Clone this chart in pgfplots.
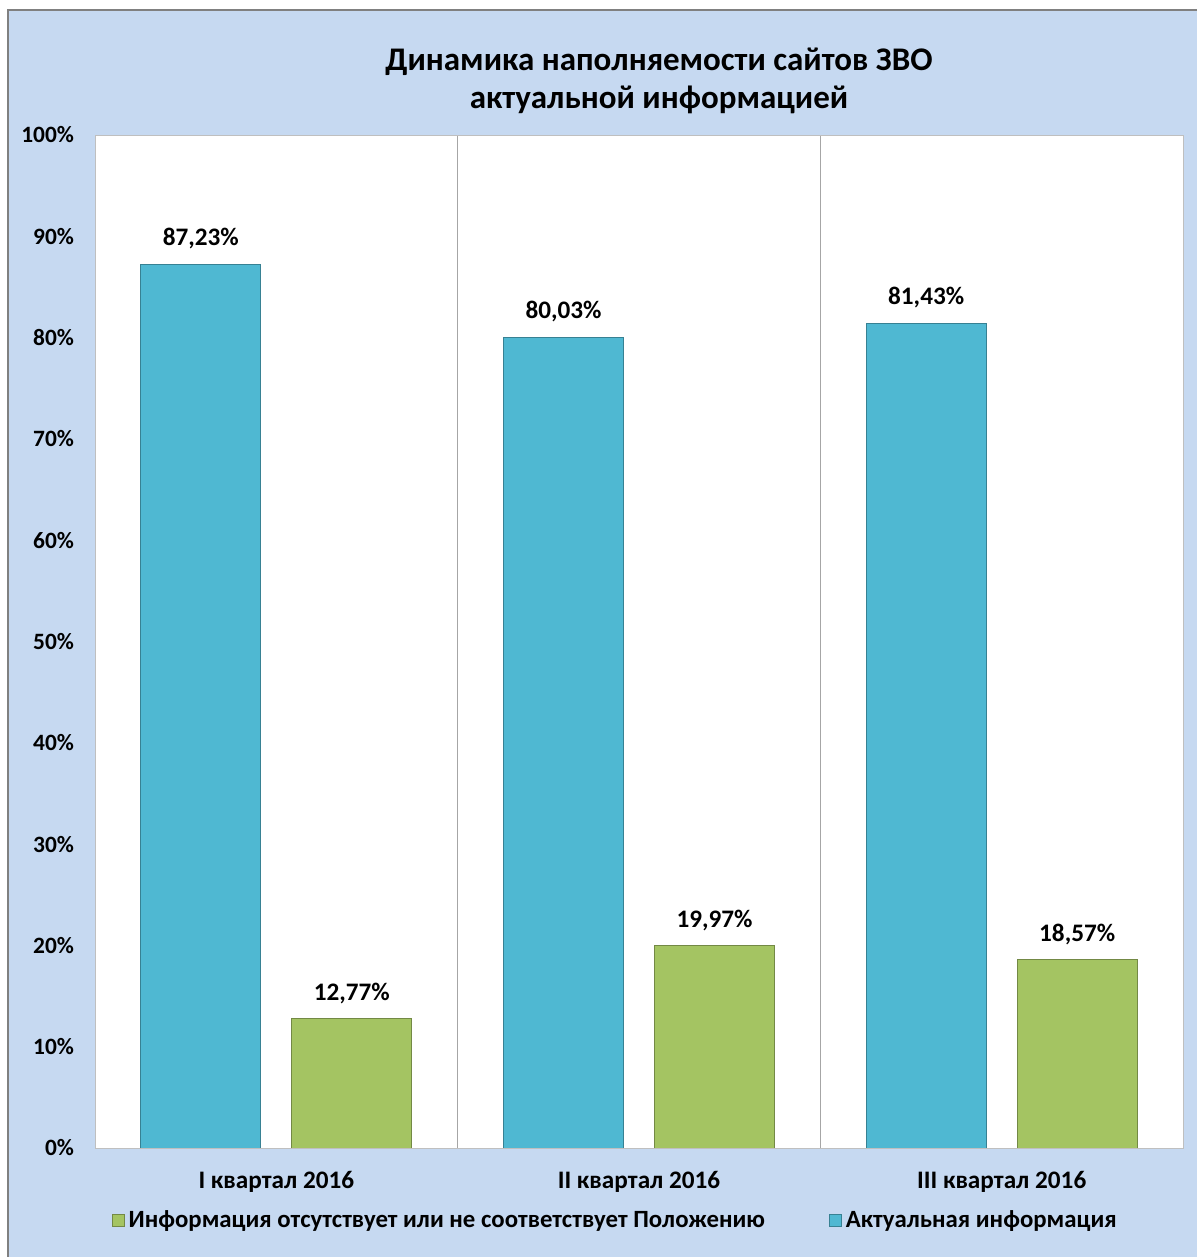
\documentclass[border=0pt]{standalone}
\usepackage{fontspec}
\setmainfont{Carlito}
\usepackage{pgfplots}
\pgfplotsset{compat=1.18}
\definecolor{bg}{HTML}{C6D9F1}
\definecolor{barblue}{HTML}{4FB8D2}
\definecolor{bargreen}{HTML}{A4C462}
\begin{document}
\begin{tikzpicture}
\useasboundingbox (0,0) rectangle (598.5pt,628.5pt);
\fill[white] (0,0) rectangle (598.5pt,628.5pt);
\fill[bg] (4pt,0) rectangle (598.5pt,623.5pt);
\draw[gray,line width=1pt] (4pt,0) -- (4pt,623.5pt) -- (598.5pt,623.5pt);
\node[font=\bfseries\fontsize{16.5}{19}\selectfont, align=center] at (329.5pt,588pt)
  {Динамика наполняемости сайтов ЗВО\\актуальной информацией};
\begin{axis}[
  at={(47.5pt,54.5pt)}, anchor=south west,
  scale only axis, width=544pt, height=506.5pt,
  ybar, bar width=60pt,
  xmin=-0.5, xmax=2.5, ymin=0, ymax=100,
  xtick={0,1,2},
  xticklabels={I квартал 2016, II квартал 2016, III квартал 2016},
  ytick={0,10,...,100},
  yticklabel={\pgfmathprintnumber{\tick}\%},
  /pgf/number format/assume math mode=true,
  minor xtick={0.5,1.5}, xminorgrids,
  minor grid style={gray!70, line width=0.6pt},
  tick style={draw=none},
  axis line style={gray!50},
  axis background/.style={fill=white},
  yticklabel style={font=\bfseries\fontsize{11.7}{13}\selectfont, xshift=-7pt},
  xticklabel style={font=\bfseries\fontsize{12.6}{14}\selectfont, yshift=-4pt},
  nodes near coords={\pgfmathprintnumber[fixed,fixed zerofill,precision=2,use comma]{\pgfplotspointmeta}\%},
  nodes near coords style={font=\bfseries\fontsize{12.6}{14}\selectfont, yshift=4pt},
  legend columns=2,
  legend style={at={(0.479,-0.072)}, anchor=center, draw=none, fill=none,
    font=\bfseries\fontsize{12.4}{14}\selectfont,
    /tikz/every even column/.append style={column sep=30pt}},
  legend image code/.code={\draw[#1,line width=0.5pt] (0pt,-3pt) rectangle (6pt,3pt);},
]
\addplot[fill=bargreen, draw=bargreen!70!black, bar shift=37.75pt]
  coordinates {(0,12.77) (1,19.97) (2,18.57)};
\addlegendentry{Информация отсутствует или не соответствует Положению}
\addplot[fill=barblue, draw=barblue!70!black, bar shift=-37.75pt]
  coordinates {(0,87.23) (1,80.03) (2,81.43)};
\addlegendentry{Актуальная информация}
\end{axis}
\end{tikzpicture}
\end{document}
